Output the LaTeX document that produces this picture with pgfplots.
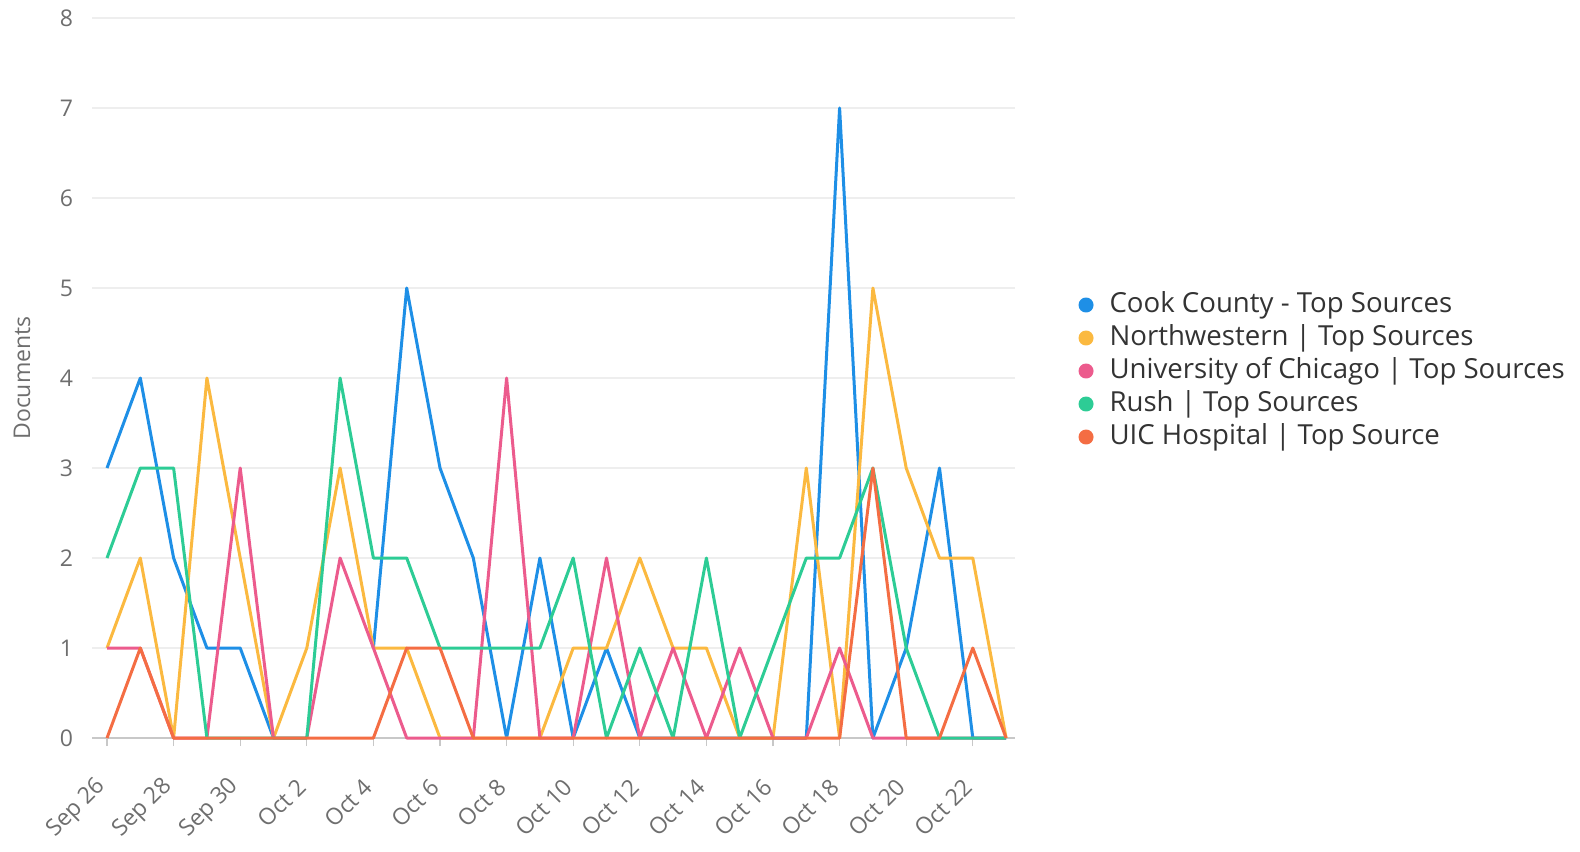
\documentclass[border=0pt]{standalone}
\usepackage{fontspec}
\setmainfont{Open Sans}
\usepackage{pgfplots}
\usepackage{pgfplotstable}
\pgfplotsset{compat=1.18}

\definecolor{cook}{HTML}{1E8FE6}
\definecolor{nwu}{HTML}{FBB940}
\definecolor{uchi}{HTML}{EC5B8D}
\definecolor{rush}{HTML}{2DCC95}
\definecolor{uic}{HTML}{F46D43}
\definecolor{gridc}{HTML}{EEEEEE}
\definecolor{axisc}{HTML}{C8C8C8}
\definecolor{tickc}{HTML}{6E6E6E}
\definecolor{legc}{HTML}{333333}

% day index 0 = Sep 26 ... 27 = Oct 23
\pgfplotstableread{
x  cook nwu uchi rush uic
0  3    1   1    2    0
1  4    2   1    3    1
2  2    0   0    3    0
3  1    4   0    0    0
4  1    2   3    0    0
5  0    0   0    0    0
6  nan  1   0    0    0
7  nan  3   2    4    0
8  1    1   1    2    0
9  5    1   0    2    1
10 3    0   0    1    1
11 2    0   0    1    0
12 0    0   4    1    0
13 2    0   0    1    0
14 0    1   0    2    0
15 1    1   2    0    0
16 0    2   0    1    0
17 0    1   1    0    0
18 0    1   0    2    0
19 0    0   1    0    0
20 0    0   0    1    0
21 0    3   0    2    0
22 7    0   1    2    0
23 0    5   0    3    3
24 1    3   0    1    0
25 3    2   0    0    0
26 0    2   0    0    1
27 0    0   0    0    0
}\docs

\begin{document}
\begin{tikzpicture}
\begin{axis}[
    scale only axis,
    width=461.5pt,
    height=360pt,
    xmin=-0.45, xmax=27.27,
    ymin=0, ymax=8,
    clip=false,
    unbounded coords=jump,
    axis x line*=bottom,
    axis y line*=left,
    x axis line style={-, draw=axisc, line width=0.8pt},
    y axis line style={draw=none},
    xtick={0,2,...,26},
    xticklabels={Sep 26, Sep 28, Sep 30, Oct 2, Oct 4, Oct 6, Oct 8, Oct 10, Oct 12, Oct 14, Oct 16, Oct 18, Oct 20, Oct 22},
    ytick={0,1,...,8},
    tick align=outside,
    major tick length=4pt,
    xtick style={draw=axisc, line width=0.6pt},
    ytick style={draw=none},
    ymajorgrids=true,
    grid style={draw=gridc, line width=0.8pt},
    xticklabel style={rotate=45, anchor=east, font=\fontsize{11.5}{13}\selectfont, text=tickc},
    xticklabel shift=16pt,
    yticklabel style={font=\fontsize{11.5}{13}\selectfont, text=tickc, xshift=-2pt},
    /pgf/number format/assume math mode=true,
    ylabel={Documents},
    ylabel style={at={(axis description cs:-0.0758,0.5)}, anchor=center, font=\fontsize{11.5}{13}\selectfont, text=tickc},
    legend style={at={(1.0683,0.5097)}, anchor=west, draw=none, fill=none, inner sep=0pt,
        font=\fontsize{13.8}{16}\selectfont, text=legc, row sep=0pt,
        nodes={text height=11pt, text depth=3.5pt, inner sep=1pt}},
    legend cell align=left,
    legend image code/.code={\fill[#1] (3pt,0pt) circle (3pt); \path (0pt,0pt) (13pt,0pt);},
    every axis plot/.append style={line width=1.5pt, line join=round},
]
\addplot[cook] table[x=x, y=cook] {\docs};
\addplot[nwu] table[x=x, y=nwu] {\docs};
\addplot[uchi] table[x=x, y=uchi] {\docs};
\addplot[rush] table[x=x, y=rush] {\docs};
\addplot[uic] table[x=x, y=uic] {\docs};
\legend{Cook County - Top Sources, Northwestern | Top Sources, University of Chicago | Top Sources, Rush | Top Sources, UIC Hospital | Top Source}
\path (rel axis cs:-0.0997,-0.1417) rectangle (rel axis cs:1.612,1.025);
\end{axis}
\end{tikzpicture}
\end{document}
